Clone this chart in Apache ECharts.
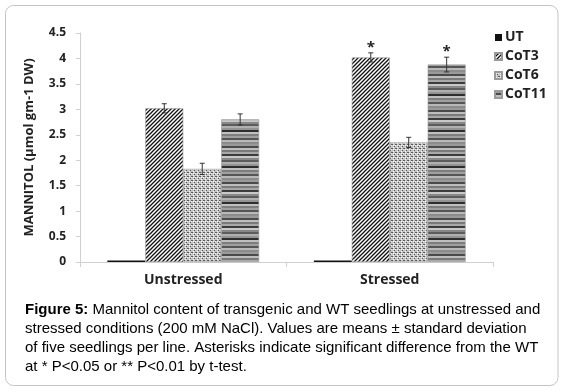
<!DOCTYPE html>
<html><head><meta charset="utf-8">
<script src="https://cdn.jsdelivr.net/npm/echarts@6/dist/echarts.min.js"></script>
<style>html,body{margin:0;padding:0;background:#fff}#c{width:568px;height:390px}</style>
</head><body><div id="c"></div>
<script>
// ---- data ----
const categories = ['Unstressed', 'Stressed'];
const seriesNames = ['UT', 'CoT3', 'CoT6', 'CoT11'];
const utValues    = [0.03, 0.03];
const cot3Values  = [3.02, 4.02];
const cot6Values  = [1.83, 2.35];
const cot11Values = [2.80, 3.88];
const utSD    = [0, 0];
const cot3SD  = [0.09, 0.09];
const cot6SD  = [0.11, 0.10];
const cot11SD = [0.11, 0.145];
const utStar    = ['', ''];
const cot3Star  = ['', '*'];
const cot6Star  = ['', ''];
const cot11Star = ['', '*'];
const yTicks = [0, 0.5, 1, 1.5, 2, 2.5, 3, 3.5, 4, 4.5];
const caption = [
  ['Figure 5:', ' Mannitol content of transgenic and WT seedlings at unstressed and'],
  ['', 'stressed conditions (200 mM NaCl). Values are means \u00b1 standard deviation'],
  ['', 'of five seedlings per line. Asterisks indicate significant difference from the WT'],
  ['', 'at * P<0.05 or ** P<0.01 by t-test.']
];

// ---- patterns ----
function tile(w, h, draw) { const c = document.createElement('canvas'); c.width = w; c.height = h; const g = c.getContext('2d'); draw(g); return c; }
const hatch = tile(4, 4, g => {
  g.fillStyle = '#fff'; g.fillRect(0, 0, 4, 4);
  g.strokeStyle = '#111'; g.lineWidth = 1.3;
  g.beginPath(); g.moveTo(-1, 5); g.lineTo(5, -1); g.moveTo(-1, 1); g.lineTo(1, -1); g.moveTo(3, 5); g.lineTo(5, 3); g.stroke();
});
const dots = tile(4, 4, g => {
  g.fillStyle = '#c4c4c4'; g.fillRect(0, 0, 4, 4);
  g.fillStyle = '#5a5a5a'; g.fillRect(0, 0, 1, 1); g.fillRect(2, 2, 1, 1); g.fillRect(3, 0, 1, 1);
  g.fillStyle = '#f4f4f4'; g.fillRect(1, 3, 1, 1); g.fillRect(3, 1, 1, 1); g.fillRect(1, 1, 1, 1);
});
const stripeShades = ['#9a9a9a','#4a4a4a','#bdbdbd','#7a7a7a','#a8a8a8','#3c3c3c','#c8c8c8','#888','#5c5c5c','#b0b0b0','#949494','#2e2e2e','#c0c0c0','#7e7e7e','#a0a0a0','#555','#b8b8b8','#8c8c8c'];
const stripes = tile(1, stripeShades.length * 2, g => {
  stripeShades.forEach((c, i) => { g.fillStyle = c; g.fillRect(0, i * 2, 1, 2); });
});
const fills = [ '#111', {image: hatch, repeat: 'repeat'}, {image: dots, repeat: 'repeat'}, {image: stripes, repeat: 'repeat'} ];

const values = [utValues, cot3Values, cot6Values, cot11Values];
const sds = [utSD, cot3SD, cot6SD, cot11SD];
const stars = [utStar, cot3Star, cot6Star, cot11Star];
const catGap = 0.265;

const errData = [];
values.forEach((vals, s) => vals.forEach((v, c) => { if (sds[s][c] > 0) errData.push([c, v, sds[s][c], s, stars[s][c]]); }));

const chart = echarts.init(document.getElementById('c'), null, {renderer: 'canvas'});
const boldFont = '"Open Sans", "Liberation Sans", sans-serif';

const barSeries = seriesNames.map((n, s) => ({
  name: n, type: 'bar', data: values[s], barGap: '0%', barCategoryGap: (catGap * 100) + '%',
  itemStyle: {color: fills[s], borderColor: s === 0 ? '#111' : '#9a9a9a', borderWidth: s === 0 ? 0 : 0.6},
  emphasis: {disabled: true}
}));

let capText = caption.map(l => (l[0] ? '{b|' + l[0] + '}' : '') + '{n|' + l[1] + '}').join('\n');

chart.setOption({
  animation: false,
  grid: {left: 80, top: 33, width: 413, height: 229},
  legend: {
    orient: 'vertical', left: 494, top: 28, padding: 0, itemWidth: 7, itemHeight: 7, itemGap: 0,
    icon: 'rect', data: seriesNames,
    textStyle: {fontFamily: boldFont, fontWeight: 'bold', fontSize: 14, color: '#222', padding: [0, 0, 0, -2], lineHeight: 19}
  },
  xAxis: {
    type: 'category', data: categories,
    axisLine: {lineStyle: {color: '#d0d0d0'}},
    axisTick: {show: true, length: 5, lineStyle: {color: '#d0d0d0'}},
    axisLabel: {fontFamily: boldFont, fontWeight: 'bold', fontSize: 14, color: '#222', margin: 11}
  },
  yAxis: {
    type: 'value', min: yTicks[0], max: yTicks[yTicks.length - 1], interval: yTicks[1] - yTicks[0],
    axisLine: {show: true, lineStyle: {color: '#d0d0d0'}},
    axisTick: {show: true, length: 4, lineStyle: {color: '#d0d0d0'}},
    splitLine: {show: false},
    axisLabel: {fontFamily: boldFont, fontWeight: 'bold', fontSize: 12, color: '#222', margin: 14},
    name: 'MANNITOL (\u00b5mol gm-1 DW)', nameLocation: 'middle', nameGap: 44,
    nameTextStyle: {fontFamily: boldFont, fontWeight: 'bold', fontSize: 13, color: '#222'}
  },
  series: barSeries.concat([{
    type: 'custom', z: 10, data: errData, encode: {x: 0, y: 1},
    renderItem: function (params, api) {
      const c = api.value(0), m = api.value(1), sd = api.value(2), s = api.value(3);
      const star = errData[params.dataIndex][4];
      const catW = api.size([1, 0])[0];
      const bw = catW * (1 - catGap) / seriesNames.length;
      const base = api.coord([c, m]);
      const x = base[0] + (s - (seriesNames.length - 1) / 2) * bw;
      const yt = api.coord([c, m + sd])[1], yb = api.coord([c, m - sd])[1];
      const cap = 2.5;
      const ch = [
        {type: 'line', shape: {x1: x, y1: yt, x2: x, y2: yb}, style: {stroke: '#333', lineWidth: 1}},
        {type: 'line', shape: {x1: x - cap, y1: yt, x2: x + cap, y2: yt}, style: {stroke: '#333', lineWidth: 1}},
        {type: 'line', shape: {x1: x - cap, y1: yb, x2: x + cap, y2: yb}, style: {stroke: '#333', lineWidth: 1}}
      ];
      if (star) ch.push({type: 'text', style: {text: star, x: x, y: yt + 2, align: 'center', verticalAlign: 'bottom', font: 'bold 15px ' + boldFont, fill: '#222'}});
      return {type: 'group', children: ch};
    }
  }]),
  graphic: [
    {type: 'rect', shape: {x: 5.5, y: 5.5, width: 552.5, height: 380, r: 8}, style: {fill: 'none', stroke: '#c4c4c4', lineWidth: 1}, silent: true},
    {type: 'text', left: 25, top: 302, style: {
      text: capText,
      rich: {
        b: {fontFamily: '"Liberation Sans", Arial, sans-serif', fontWeight: 'bold', fontSize: 15, color: '#222', lineHeight: 19},
        n: {fontFamily: '"Liberation Sans", Arial, sans-serif', fontSize: 15, color: '#333', lineHeight: 19}
      }
    }}
  ]
});
</script></body></html>
